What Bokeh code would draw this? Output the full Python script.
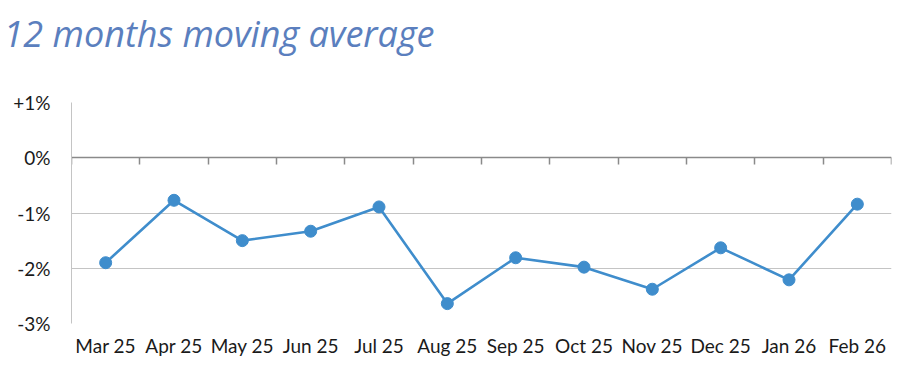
from bokeh.plotting import figure
from bokeh.models import Range1d, FixedTicker, LinearAxis, Title
from bokeh.embed import file_html
from bokeh.resources import INLINE

title_text = "12 months moving average"
months = ["Mar 25", "Apr 25", "May 25", "Jun 25", "Jul 25", "Aug 25",
          "Sep 25", "Oct 25", "Nov 25", "Dec 25", "Jan 26", "Feb 26"]
values = [-1.90, -0.77, -1.50, -1.33, -0.89, -2.64,
          -1.81, -1.98, -2.38, -1.63, -2.21, -0.84]
y_ticks = [1, 0, -1, -2, -3]
y_tick_labels = ["+1%", "0%", "-1%", "-2%", "-3%"]

xs = [i + 0.5 for i in range(len(months))]
bounds = list(range(len(months) + 1))

p = figure(width=892, height=359, output_backend="svg", toolbar_location=None,
           x_range=Range1d(0, len(months)), y_range=Range1d(-3, 1),
           min_border_left=71, min_border_right=1, min_border_top=102,
           min_border_bottom=20)
p.outline_line_color = None
p.background_fill_color = "white"
p.border_fill_color = "white"

p.title = Title(text=title_text, text_font="Open Sans", text_font_style="italic",
                text_font_size="36px", text_color="#5b7fbe",
                align="left", vertical_align="bottom", offset=-68, standoff=0,
                padding=dict(top=0, right=0, bottom=45, left=0))

# y axis
p.yaxis.ticker = FixedTicker(ticks=y_ticks)
p.yaxis.major_label_overrides = {v: s for v, s in zip(y_ticks, y_tick_labels)}
p.yaxis.axis_line_color = "#c4c4c4"
p.yaxis.major_tick_line_color = None
p.yaxis.minor_tick_line_color = None
p.yaxis.major_label_standoff = 15
p.yaxis.major_label_text_font = "Lato"
p.yaxis.major_label_text_font_size = "19px"
p.yaxis.major_label_text_color = "#1a1a1a"

# x axis with labels at bottom
p.xaxis.ticker = FixedTicker(ticks=xs)
p.xaxis.major_label_overrides = {x: m for x, m in zip(xs, months)}
p.xaxis.axis_line_color = None
p.xaxis.major_tick_line_color = None
p.xaxis.minor_tick_line_color = None
p.xaxis.major_label_standoff = 4
p.xaxis.major_label_text_font = "Lato"
p.xaxis.major_label_text_font_size = "19px"
p.xaxis.major_label_text_color = "#1a1a1a"

# category axis crossing at 0
cat_axis = LinearAxis(ticker=FixedTicker(ticks=bounds),
                      fixed_location=0,
                      major_label_overrides={b: "" for b in bounds},
                      major_label_standoff=0,
                      axis_line_color="#8a8a8a", axis_line_width=1.5,
                      major_tick_line_color="#8a8a8a", major_tick_line_width=1.5,
                      major_tick_in=0, major_tick_out=7,
                      minor_tick_line_color=None)
p.add_layout(cat_axis, "below")

p.xgrid.grid_line_color = None
p.ygrid.ticker = FixedTicker(ticks=[1, -1, -2, -3])
p.ygrid.grid_line_color = "#c4c4c4"
p.ygrid.grid_line_width = 1

p.line(xs, values, line_color="#3f8dcc", line_width=2.6)
p.scatter(xs, values, size=12, fill_color="#3f8dcc", line_color="#3f8dcc")

open("out.html", "w").write(file_html(p, INLINE))
